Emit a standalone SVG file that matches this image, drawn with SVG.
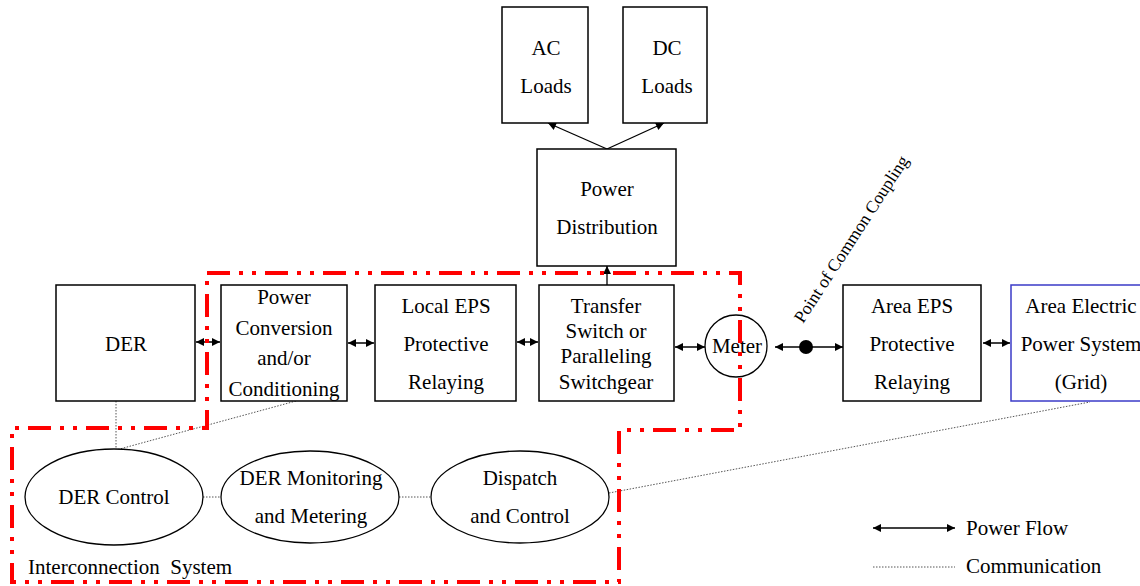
<svg xmlns="http://www.w3.org/2000/svg" width="1140" height="586" viewBox="0 0 1140 586">
<defs>
<marker id="ah" viewBox="0 0 10 10" refX="10" refY="5" markerWidth="9" markerHeight="8" markerUnits="userSpaceOnUse" orient="auto-start-reverse">
<path d="M0,0 L10,5 L0,10 z" fill="#000"/>
</marker>
<style>
.box{fill:#fff;stroke:#000;stroke-width:1.5}
.grid{fill:#fff;stroke:#3b3bc8;stroke-width:1.5}
.ell{fill:#fff;stroke:#000;stroke-width:1.3}
.t{font-family:"Liberation Serif","Times New Roman",serif;font-size:21px;fill:#000;text-anchor:middle}
.tl{font-family:"Liberation Serif","Times New Roman",serif;font-size:21px;fill:#000;white-space:pre}
.pf{stroke:#000;stroke-width:1.5;fill:none;marker-start:url(#ah);marker-end:url(#ah)}
.one{stroke:#000;stroke-width:1.3;fill:none;marker-end:url(#ah)}
.com{stroke:#555;stroke-width:1;stroke-dasharray:1.5 1.5;fill:none}
.bound{fill:none;stroke:#ff0000;stroke-width:4;stroke-dasharray:23 9 4 9 4 9}
</style>
</defs>
<rect width="1140" height="586" fill="#fff"/>

<g id="connectors">
<line class="one" x1="607" y1="149" x2="548" y2="123"/>
<line class="one" x1="607" y1="149" x2="664" y2="123"/>
<line class="one" x1="607" y1="285" x2="607" y2="266"/>
<line class="pf" x1="196" y1="342" x2="220" y2="342"/>
<line class="pf" x1="348" y1="343" x2="374" y2="343"/>
<line class="pf" x1="517" y1="342" x2="538" y2="342"/>
<line class="pf" x1="675" y1="347" x2="705" y2="347"/>
<line class="pf" x1="775" y1="347" x2="843" y2="347"/>
<line class="pf" x1="983" y1="343" x2="1010" y2="343"/>
<line class="com" x1="116" y1="401" x2="116" y2="450"/>
<line class="com" x1="296" y1="401" x2="116" y2="450"/>
<line class="com" x1="203" y1="497" x2="221" y2="497"/>
<line class="com" x1="399" y1="497" x2="430" y2="497"/>
<line class="com" x1="609" y1="493" x2="1090" y2="402"/>
</g>

<g id="ac-loads"><rect class="box" x="502" y="7" width="86" height="116"/><text class="t" x="546" y="55">AC</text><text class="t" x="546" y="93">Loads</text></g>
<g id="dc-loads"><rect class="box" x="623" y="7" width="84" height="116"/><text class="t" x="667" y="55">DC</text><text class="t" x="667" y="93">Loads</text></g>
<g id="power-distribution"><rect class="box" x="537" y="149" width="139" height="117"/><text class="t" x="607" y="196">Power</text><text class="t" x="607" y="234">Distribution</text></g>
<g id="der"><rect class="box" x="56" y="285" width="139" height="116"/><text class="t" x="126" y="351">DER</text></g>
<g id="power-conversion"><rect class="box" x="221" y="285" width="126" height="116"/><text class="t" x="284" y="304">Power</text><text class="t" x="284" y="335">Conversion</text><text class="t" x="284" y="365">and/or</text><text class="t" x="284" y="396">Conditioning</text></g>
<g id="local-eps"><rect class="box" x="375" y="285" width="141" height="116"/><text class="t" x="446" y="313">Local EPS</text><text class="t" x="446" y="351">Protective</text><text class="t" x="446" y="389">Relaying</text></g>
<g id="transfer-switch"><rect class="box" x="539" y="285" width="135" height="116"/><text class="t" x="606" y="313">Transfer</text><text class="t" x="606" y="338">Switch or</text><text class="t" x="606" y="363">Paralleling</text><text class="t" x="606" y="389">Switchgear</text></g>
<g id="meter"><circle cx="736" cy="346" r="31" fill="#fff" stroke="#000" stroke-width="1.3"/><text class="t" x="737" y="353">Meter</text></g>
<g id="pcc"><circle cx="806" cy="347" r="7" fill="#000"/><text font-family="Liberation Serif, Times New Roman, serif" font-size="17.5" transform="translate(803,324) rotate(-57)">Point of Common Coupling</text></g>
<g id="area-eps"><rect class="box" x="843" y="285" width="138" height="116"/><text class="t" x="912" y="313">Area EPS</text><text class="t" x="912" y="351">Protective</text><text class="t" x="912" y="389">Relaying</text></g>
<g id="grid"><rect class="grid" x="1011" y="285" width="140" height="116"/><text class="t" x="1081" y="313">Area Electric</text><text class="t" x="1081" y="351">Power System</text><text class="t" x="1081" y="389">(Grid)</text></g>
<g id="der-control"><ellipse class="ell" cx="114" cy="497" rx="89" ry="48"/><text class="t" x="114" y="504">DER Control</text></g>
<g id="der-monitoring"><ellipse class="ell" cx="310" cy="497" rx="89" ry="46"/><text class="t" x="311" y="485">DER Monitoring</text><text class="t" x="311" y="523">and Metering</text></g>
<g id="dispatch"><ellipse class="ell" cx="520" cy="497" rx="89" ry="46"/><text class="t" x="520" y="485">Dispatch</text><text class="t" x="520" y="523">and Control</text></g>
<g id="interconnection-label"><text class="tl" x="28" y="574">Interconnection  System</text></g>

<g id="boundary">
<path class="bound" d="M207,273 L740,273 L740,430 L619,430 L619,582 L12,582 L12,428 L207,428 Z"/>
</g>

<g id="legend">
<line class="pf" x1="873" y1="528" x2="955" y2="528"/>
<text class="tl" x="966" y="535">Power Flow</text>
<line class="com" x1="873" y1="567" x2="955" y2="567"/>
<text class="tl" x="966" y="573">Communication</text>
</g>
</svg>
